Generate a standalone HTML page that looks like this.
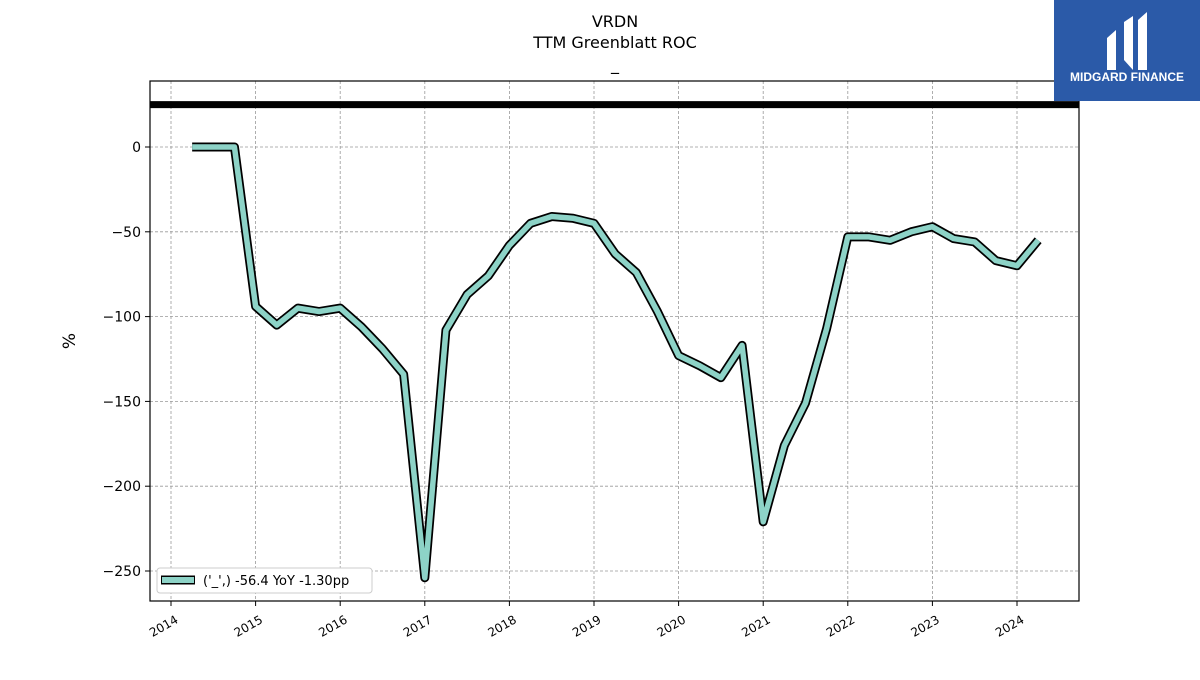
<!DOCTYPE html>
<html><head><meta charset="utf-8"><style>
body{margin:0;background:#fff;width:1200px;height:675px;overflow:hidden;font-family:"Liberation Sans","DejaVu Sans",sans-serif}
</style></head><body>
<svg id="chart" width="1200" height="675" xmlns="http://www.w3.org/2000/svg" font-family="DejaVu Sans, Liberation Sans, sans-serif">
<text x="615" y="27" text-anchor="middle" font-size="16">VRDN</text>
<text x="615" y="48" text-anchor="middle" font-size="16">TTM Greenblatt ROC</text>
<text x="615" y="70" text-anchor="middle" font-size="16">_</text>
<g id="grid"></g>
<g id="marks"></g>
<rect x="150" y="81" width="929" height="520" fill="none" stroke="#000" stroke-width="1.2"/>
<g id="axes"></g>
<text transform="translate(75,341) rotate(-90)" text-anchor="middle" font-size="17">%</text>
<g>
<rect x="157" y="568" width="215" height="25" rx="3" fill="#fff" stroke="#ccc"/>
<line x1="161" y1="580" x2="195" y2="580" stroke="#000" stroke-width="9"/>
<line x1="162" y1="580" x2="194" y2="580" stroke="#8dd3c7" stroke-width="6"/>
<text x="203" y="585" font-size="13">('_',) -56.4 YoY -1.30pp</text>
</g>
<g>
<rect x="1054" y="0" width="146" height="101" fill="#2b5aa8"/>
<path d="M1107 70 V38 L1116 30 V70 Z M1124 60 V22 L1133 16 V70 Z M1138 70 V20 L1147 12 V70 Z" fill="#fff"/>
<text x="1127" y="81" text-anchor="middle" font-size="12" font-weight="bold" fill="#fff" font-family="Liberation Sans, sans-serif">MIDGARD FINANCE</text>
</g>
</svg>
<script>
const dates=[2014.25,2014.5,2014.75,2015,2015.25,2015.5,2015.75,2016,2016.25,2016.5,2016.75,2017,2017.25,2017.5,2017.75,2018,2018.25,2018.5,2018.75,2019,2019.25,2019.5,2019.75,2020,2020.25,2020.5,2020.75,2021,2021.25,2021.5,2021.75,2022,2022.25,2022.5,2022.75,2023,2023.25,2023.5,2023.75,2024,2024.25];
const values=[0,0,0,-94,-105,-95,-97,-95,-106,-119,-134,-254,-108,-87,-76,-58,-45,-41,-42,-45,-63,-74,-97,-123,-129,-136,-117,-221,-176,-151,-107,-53,-53,-55,-50,-47,-54,-56,-67,-70,-55];
const yTicks=[0,-50,-100,-150,-200,-250];
const xTicks=[2014,2015,2016,2017,2018,2019,2020,2021,2022,2023,2024];
const refLine=25;
const NS="http://www.w3.org/2000/svg";
const X=v=>171+(v-2014)*84.6;
const Y=v=>147-v*1.696;
function mk(tag,attrs,parent){const e=document.createElementNS(NS,tag);for(const k in attrs)e.setAttribute(k,attrs[k]);parent.appendChild(e);return e;}
const grid=document.getElementById('grid'),axes=document.getElementById('axes'),marks=document.getElementById('marks');
yTicks.forEach(t=>{
 const l=mk('line',{x1:150,x2:1079,y1:Y(t),y2:Y(t),stroke:'#999','stroke-dasharray':'3,2','stroke-width':0.8},grid);
 
 
 mk('line',{x1:145,x2:150,y1:Y(t),y2:Y(t),stroke:'#000'},axes);
 const tx=mk('text',{x:141,y:Y(t)+5,'text-anchor':'end','font-size':14},axes);
 tx.textContent=(t<0?'\u2212'+(-t):t);
 
 
});
xTicks.forEach(t=>{
 const l=mk('line',{x1:X(t),x2:X(t),y1:81,y2:601,stroke:'#999','stroke-dasharray':'3,2','stroke-width':0.8},grid);
 
 
 mk('line',{x1:X(t),x2:X(t),y1:601,y2:606,stroke:'#000'},axes);
 const tx=mk('text',{x:X(t)+8,y:622,'text-anchor':'end','font-size':12,transform:`rotate(-30 ${X(t)+8} 622)`},axes);
 tx.textContent=t;
 
 
});
const rl=mk('line',{x1:150,x2:1079,y1:Y(refLine),y2:Y(refLine),stroke:'#000','stroke-width':7},marks);


const pts=dates.map((d,i)=>X(d)+','+Y(values[i])).join(' ');
const o=mk('polyline',{points:pts,fill:'none',stroke:'#000','stroke-width':9,'stroke-linejoin':'round'},marks);


const p=mk('polyline',{points:pts,fill:'none',stroke:'#8dd3c7','stroke-width':5.5,'stroke-linejoin':'round'},marks);


</script>
</body></html>
